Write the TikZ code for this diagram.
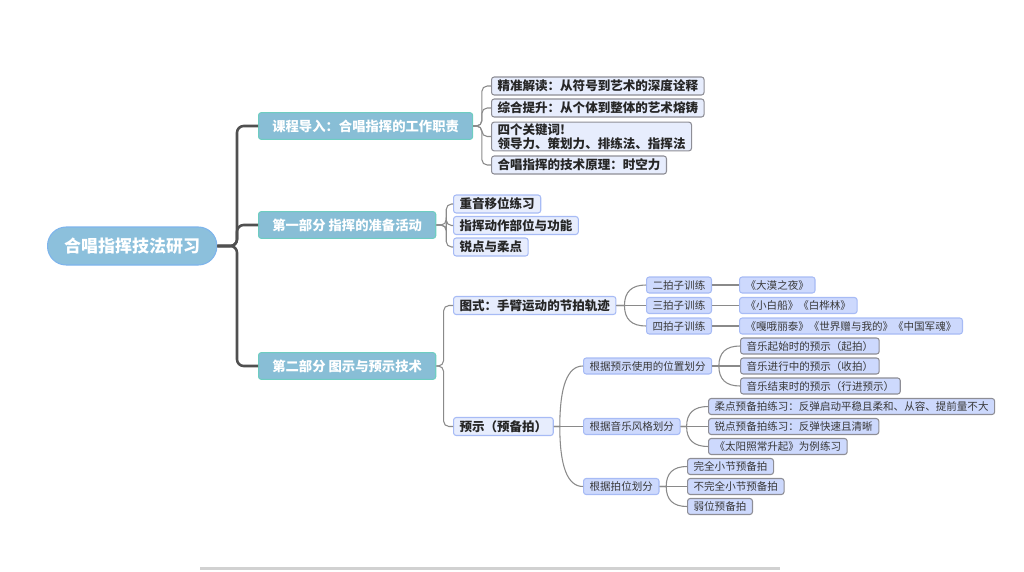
\documentclass[tikz,border=0pt]{standalone}
\usepackage{fontspec}
\setmainfont{Noto Sans CJK SC}
\usepackage{tikz}
\usetikzlibrary{calc}

\definecolor{rootfill}{HTML}{8CC0DC}
\definecolor{rootline}{HTML}{7EB4EC}
\definecolor{mainfill}{HTML}{88BED6}
\definecolor{mainline}{HTML}{6ECDC1}
\definecolor{subfill}{HTML}{E7EDFD}
\definecolor{subline}{HTML}{A7BBF5}
\definecolor{leaffill}{HTML}{CDD9FD}
\definecolor{grayline}{HTML}{8E8E96}
\definecolor{trunkcol}{HTML}{505050}
\definecolor{twigcol}{HTML}{8A8A8A}

\begin{document}
\begin{tikzpicture}[x=0.75pt, y=-0.75pt,
    rootbox/.style={draw=rootline, fill=rootfill, line width=0.8pt, rounded corners=14pt, text=white,
      font=\fontsize{12.75pt}{14pt}\selectfont\bfseries, inner xsep=12.5pt, minimum height=28.5pt, anchor=west},
    mainbox/.style={draw=mainline, fill=mainfill, line width=0.8pt, rounded corners=2pt, text=white,
      font=\fontsize{10pt}{12pt}\selectfont\bfseries, inner xsep=10.3pt, minimum height=20pt, anchor=west},
    subbox/.style={draw=subline, fill=subfill, line width=0.8pt, rounded corners=2pt, text=black!85,
      font=\fontsize{9.4pt}{10.5pt}\selectfont\bfseries, inner xsep=4.5pt, inner ysep=1pt, minimum height=13.5pt, anchor=west},
    subgray/.style={subbox, draw=grayline},
    leafbox/.style={draw=subline, fill=leaffill, line width=0.8pt, rounded corners=2pt, text=black!78,
      font=\fontsize{7.9pt}{9.5pt}\selectfont, inner xsep=4.6pt, inner ysep=1pt, minimum height=12pt, anchor=west},
    leafgray/.style={leafbox, draw=grayline},
    trunk/.style={draw=trunkcol, line width=1.9pt, rounded corners=5pt},
    twig/.style={draw=twigcol, line width=0.8pt, rounded corners=4pt},
    curvy/.style={draw=twigcol, line width=0.8pt},
    twigcurve/.style={to path={.. controls ($(\tikztostart)!0.667!(\tikztostart |- \tikztotarget)$)
      and ($(\tikztotarget)!0.667!(\tikztostart |- \tikztotarget)$) .. (\tikztotarget)}}]
    \useasboundingbox (0,0) rectangle (1024,571);

    % root and main topics
    \node[rootbox] (root) at (47, 246) {合唱指挥技法研习};
    \node[mainbox] (intro) at (258, 126) {课程导入：合唱指挥的工作职责};
    \node[mainbox] (prep) at (258, 225) {第一部分 指挥的准备活动};
    \node[mainbox] (tech) at (258, 366) {第二部分 图示与预示技术};

    % intro
    \node[subgray] (a1) at (491, 86) {精准解读：从符号到艺术的深度诠释};
    \node[subgray] (a2) at (491, 108) {综合提升：从个体到整体的艺术熔铸};
    \node[subgray, align=left] (a3) at (491, 136.5) {四个关键词!\\领导力、策划力、排练法、指挥法};
    \node[subgray] (a4) at (491, 165) {合唱指挥的技术原理：时空力};

    % preparation
    \node[subbox] (b1) at (453, 204) {重音移位练习};
    \node[subbox] (b2) at (453, 225.5) {指挥动作部位与功能};
    \node[subbox] (b3) at (453, 247) {锐点与柔点};

    % technique
    \node[subbox] (c1) at (453, 305.5) {图式：手臂运动的节拍轨迹};
    \node[subbox] (c2) at (453, 426.5) {预示（预备拍）};

    \node[leafbox] (d1) at (646, 285) {二拍子训练};
    \node[leafbox] (d2) at (646, 305.5) {三拍子训练};
    \node[leafbox] (d3) at (646, 326) {四拍子训练};
    \node[leafbox] (e1) at (739, 285) {《大漠之夜》};
    \node[leafbox] (e2) at (739, 305.5) {《小白船》《白桦林》};
    \node[leafbox] (e3) at (739, 326) {《嘎哦丽泰》《世界赠与我的》《中国军魂》};

    \node[leafbox] (f1) at (583, 366) {根据预示使用的位置划分};
    \node[leafbox] (f2) at (583, 426.5) {根据音乐风格划分};
    \node[leafbox] (f3) at (583, 486.5) {根据拍位划分};

    \node[leafgray] (g1) at (740, 346) {音乐起始时的预示（起拍）};
    \node[leafgray] (g2) at (740, 366) {音乐进行中的预示（收拍）};
    \node[leafgray] (g3) at (740, 386) {音乐结束时的预示（行进预示）};

    \node[leafgray] (h1) at (708, 406.5) {柔点预备拍练习：反弹启动平稳且柔和、从容、提前量不大};
    \node[leafgray] (h2) at (708, 426.5) {锐点预备拍练习：反弹快速且清晰};
    \node[leafgray] (h3) at (708, 446.5) {《太阳照常升起》为例练习};

    \node[leafgray] (k1) at (687, 466.5) {完全小节预备拍};
    \node[leafgray] (k2) at (687, 486.5) {不完全小节预备拍};
    \node[leafgray] (k3) at (687, 506.5) {弱位预备拍};

    % junctions
    \coordinate (jr) at (237, 246);
    \coordinate (ja) at ([xshift=6.5pt]intro.east);
    \coordinate (jb) at ([xshift=7.5pt]prep.east);
    \coordinate (jt) at ([xshift=5.5pt]tech.east);
    \coordinate (jc) at ([xshift=6pt]c1.east);
    \coordinate (jp) at ([xshift=4.5pt]c2.east);
    \coordinate (jf) at ([xshift=5pt]f1.east);
    \coordinate (jg) at ([xshift=4.5pt]f2.east);
    \coordinate (jh) at ([xshift=5pt]f3.east);

    \draw[trunk] (root.east) -- (jr) |- (intro.west);
    \draw[trunk] (root.east) -- (jr) |- (prep.west);
    \draw[trunk] (root.east) -- (jr) |- (tech.west);

    \draw[twig] (intro.east) -- (ja) |- (a1.west);
    \draw[twig] (intro.east) -- (ja) |- (a2.west);
    \draw[twig] (intro.east) -- (ja) |- (a3.west);
    \draw[twig] (intro.east) -- (ja) |- (a4.west);

    \draw[twig] (prep.east) -- (jb) |- (b1.west);
    \draw[twig] (prep.east) -- (jb) |- (b2.west);
    \draw[twig] (prep.east) -- (jb) |- (b3.west);

    \draw[twig] (tech.east) -- (jt) |- (c1.west);
    \draw[twig] (tech.east) -- (jt) |- (c2.west);

    \draw[curvy] (c1.east) -- (jc) to[twigcurve] (d1.west);
    \draw[curvy] (c1.east) -- (d2.west);
    \draw[curvy] (c1.east) -- (jc) to[twigcurve] (d3.west);
    \draw[curvy] (d1.east) -- (e1.west);
    \draw[curvy] (d2.east) -- (e2.west);
    \draw[curvy] (d3.east) -- (e3.west);

    \draw[curvy] (c2.east) -- (jp) to[twigcurve] (f1.west);
    \draw[curvy] (c2.east) -- (f2.west);
    \draw[curvy] (c2.east) -- (jp) to[twigcurve] (f3.west);

    \draw[curvy] (f1.east) -- (jf) to[twigcurve] (g1.west);
    \draw[curvy] (f1.east) -- (g2.west);
    \draw[curvy] (f1.east) -- (jf) to[twigcurve] (g3.west);

    \draw[curvy] (f2.east) -- (jg) to[twigcurve] (h1.west);
    \draw[curvy] (f2.east) -- (h2.west);
    \draw[curvy] (f2.east) -- (jg) to[twigcurve] (h3.west);

    \draw[curvy] (f3.east) -- (jh) to[twigcurve] (k1.west);
    \draw[curvy] (f3.east) -- (k2.west);
    \draw[curvy] (f3.east) -- (jh) to[twigcurve] (k3.west);

    % bottom bar
    \fill[black!18] (200, 566.5) rectangle (780, 570);
  \end{tikzpicture}
\end{document}
